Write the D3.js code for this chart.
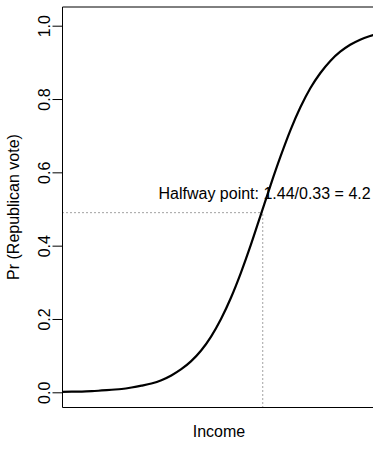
<!DOCTYPE html>
<html>
<head>
<meta charset="utf-8">
<script src="https://cdn.jsdelivr.net/npm/d3@7"></script>
<style>
  html, body { margin: 0; padding: 0; background: #fff; }
  svg { display: block; font-family: "Liberation Sans", Arial, Helvetica, sans-serif; }
</style>
</head>
<body>
<svg id="chart" width="373" height="462"></svg>
<script>
// Data
const income = [-16,-15,-14,-13,-12,-11,-10,-9,-8,-7,-6,-5,-4,-3,-2,-1,0,1,2,3,4,5,6,7,8,9,10,11,12,13,14,15,16];
const prRepublican = [0.001,0.002,0.002,0.003,0.005,0.007,0.009,0.013,0.018,0.024,0.033,0.046,0.063,0.085,0.114,0.152,0.200,0.258,0.326,0.402,0.484,0.566,0.644,0.716,0.778,0.830,0.871,0.904,0.929,0.948,0.962,0.972,0.980];
const yTicks = [0.0, 0.2, 0.4, 0.6, 0.8, 1.0];
const halfwayX = [4.2];
const halfwayY = [0.49];
const annotation = "Halfway point: 1.44/0.33 = 4.2";
const xTitle = "Income";
const yTitle = "Pr (Republican vote)";

const svg = d3.select("#chart");
const box = { left: 62.5, right: 382, top: 7, bottom: 407.5 };

const x = d3.scaleLinear().domain([-16, 16]).range([62, 380]);
const y = d3.scaleLinear().domain([0, 1]).range([392.3, 25.7]);

// Dotted guide lines
svg.append("line")
  .attr("x1", box.left).attr("x2", x(halfwayX[0]))
  .attr("y1", y(halfwayY[0])).attr("y2", y(halfwayY[0]))
  .attr("stroke", "#444").attr("stroke-width", 1).attr("stroke-dasharray", "1,3");
svg.append("line")
  .attr("x1", x(halfwayX[0])).attr("x2", x(halfwayX[0]))
  .attr("y1", box.bottom).attr("y2", y(halfwayY[0]))
  .attr("stroke", "#444").attr("stroke-width", 1).attr("stroke-dasharray", "1,3");

// Curve
const pts = income.map((d, i) => [d, prRepublican[i]]);
svg.append("path")
  .datum(pts)
  .attr("fill", "none")
  .attr("stroke", "#000")
  .attr("stroke-width", 2.2)
  .attr("d", d3.line().x(d => x(d[0])).y(d => y(d[1])).curve(d3.curveMonotoneX));

// Plot box (right side extends past the canvas)
svg.append("path")
  .attr("fill", "none").attr("stroke", "#000").attr("stroke-width", 1)
  .attr("d", `M${box.right},${box.top}H${box.left}V${box.bottom}H${box.right}`);

// Y axis
const yAxis = d3.axisLeft(y).tickValues(yTicks).tickSize(10).tickFormat(d3.format(".1f"));
const gy = svg.append("g").attr("transform", `translate(${box.left},0)`).call(yAxis);
gy.select(".domain").remove();
gy.selectAll(".tick line").attr("stroke", "#000");
gy.selectAll(".tick text")
  .attr("x", null).attr("dy", null)
  .attr("transform", "translate(-12.5,0) rotate(-90)")
  .attr("text-anchor", "middle")
  .attr("font-size", 16)
  .attr("font-family", "Liberation Sans, Arial, sans-serif")
  .attr("fill", "#000");

// Annotation
svg.append("text")
  .attr("x", 158.5).attr("y", 199.3)
  .attr("font-size", 16).attr("fill", "#000")
  .text(annotation);

// Axis titles
svg.append("text")
  .attr("x", 219).attr("y", 437)
  .attr("text-anchor", "middle").attr("font-size", 16).attr("fill", "#000")
  .text(xTitle);
svg.append("text")
  .attr("transform", `translate(19.3,207) rotate(-90)`)
  .attr("text-anchor", "middle").attr("font-size", 16).attr("fill", "#000")
  .text(yTitle);
</script>
</body>
</html>
